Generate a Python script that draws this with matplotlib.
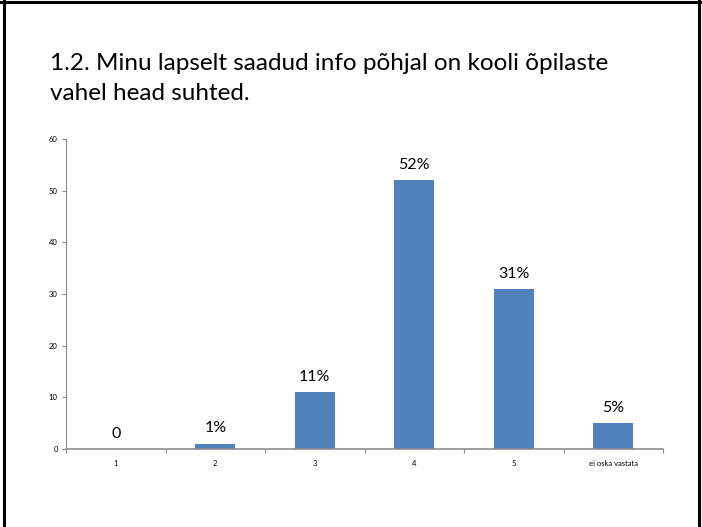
import matplotlib.pyplot as plt
from matplotlib.lines import Line2D

# chart data
categories = ["1", "2", "3", "4", "5", "ei oska vastata"]
values = [0, 1, 11, 52, 31, 5]
value_labels = ["0", "1%", "11%", "52%", "31%", "5%"]
title = "1.2. Minu lapselt saadud info põhjal on kooli õpilaste\nvahel head suhted."

bar_color = "#4f81bd"
axis_color = "#8c8c8c"

plt.rcParams["font.family"] = ["Lato", "DejaVu Sans"]

fig = plt.figure(figsize=(7.02, 5.27), dpi=100)
ax = fig.add_axes([66 / 702, 1 - 449 / 527, (663 - 66) / 702, (449 - 139) / 527])

x = list(range(len(categories)))
ax.bar(x, values, width=0.4, color=bar_color, zorder=2)

for xi, v, lab in zip(x, values, value_labels):
    ax.annotate(lab, (xi, v), xytext=(0, 6), textcoords="offset points",
                ha="center", va="bottom", fontsize=11.5, color="black")

ax.set_xlim(-0.5, len(categories) - 0.5)
ax.set_ylim(0, 60)
ax.set_yticks(range(0, 61, 10))
ax.tick_params(axis="y", labelsize=5.5, length=3, color=axis_color, pad=3)

# categories centred, ticks on the boundaries
ax.set_xticks([i - 0.5 for i in range(len(categories) + 1)])
ax.set_xticklabels([])
ax.set_xticks(x, minor=True)
ax.set_xticklabels(categories, minor=True)
ax.tick_params(axis="x", which="major", length=3, color=axis_color)
ax.tick_params(axis="x", which="minor", length=0, labelsize=5.5, pad=8)

for side in ["top", "right"]:
    ax.spines[side].set_visible(False)
ax.spines["left"].set_color(axis_color)
ax.spines["bottom"].set_color(axis_color)
ax.spines["bottom"].set_linewidth(1.2)

fig.text(50 / 702, 1 - 53 / 527, title, fontsize=17.5, ha="left", va="top",
         linespacing=1.5)

# slide frame
for xs, ys in [([4 / 702, 4 / 702], [0, 1]), ([0, 1], [1 - 2 / 527, 1 - 2 / 527]),
               ([699 / 702, 699 / 702], [0, 1])]:
    fig.add_artist(Line2D(xs, ys, color="black", linewidth=2.2,
                          transform=fig.transFigure))

fig.savefig("out.png", dpi=100)
